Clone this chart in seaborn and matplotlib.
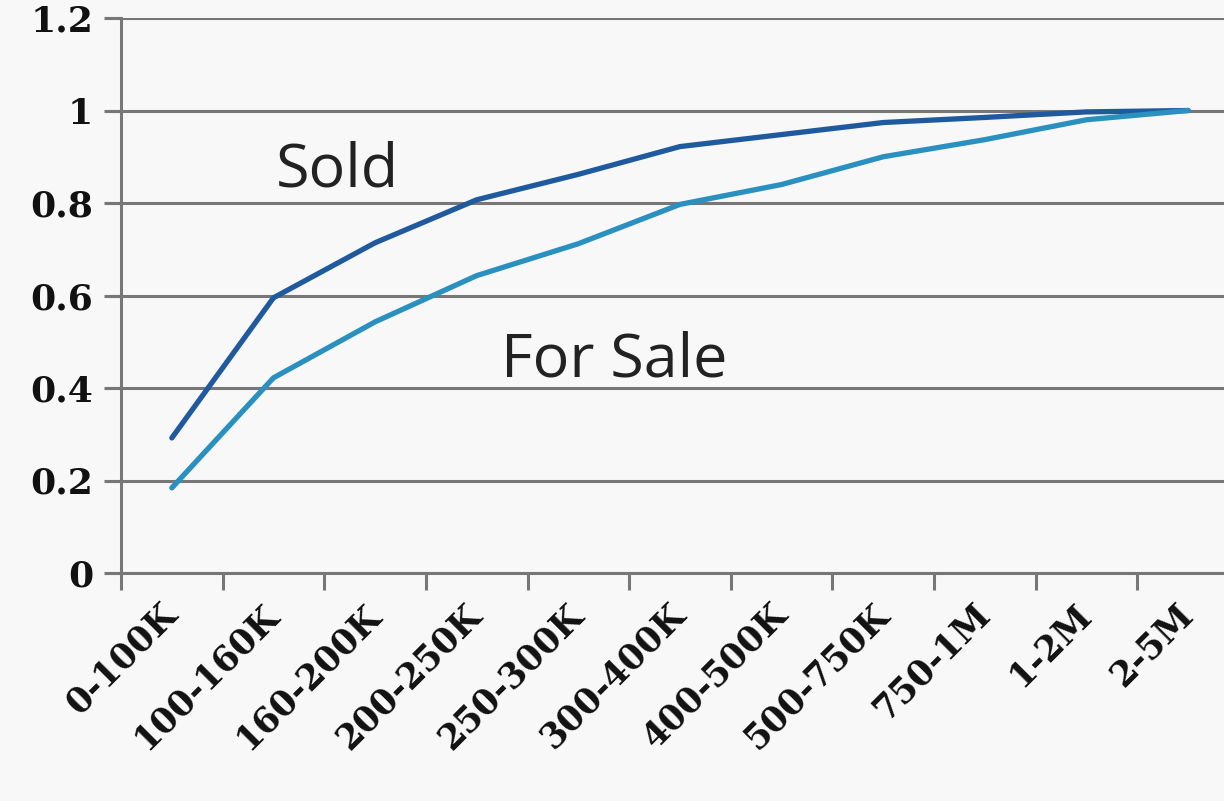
import numpy as np
import pandas as pd
import matplotlib
matplotlib.use("Agg")
import matplotlib.pyplot as plt
import seaborn as sns

# Cumulative share of homes by price band, sold vs for sale.
price_bands = ['0-100K', '100-160K', '160-200K', '200-250K', '250-300K',
               '300-400K', '400-500K', '500-750K', '750-1M', '1-2M', '2-5M']
sold = [0.292, 0.595, 0.714, 0.807, 0.862, 0.922, 0.948, 0.974, 0.985, 0.997, 1.0]
for_sale = [0.184, 0.422, 0.543, 0.643, 0.712, 0.797, 0.840, 0.900, 0.937, 0.980, 1.0]
y_ticks = [0, 0.2, 0.4, 0.6, 0.8, 1.0, 1.2]
y_labels = ['0', '0.2', '0.4', '0.6', '0.8', '1', '1.2']

df = pd.DataFrame({
    'band': price_bands * 2,
    'share': sold + for_sale,
    'series': ['Sold'] * len(sold) + ['For Sale'] * len(for_sale),
})

sns.set_style("white", {'xtick.bottom': True, 'ytick.left': True,
                        'xtick.direction': 'out', 'ytick.direction': 'out'})

fig = plt.figure(figsize=(12.24, 8.01), dpi=100)
fig.patch.set_facecolor('#f8f8f8')
# the chart runs a bit past the right edge of the picture
ax = fig.add_axes([121 / 1224, 228 / 801, 1118 / 1224, 555 / 801])
ax.set_facecolor('#f8f8f8')

palette = {'Sold': '#1f5a9f', 'For Sale': '#2a90c0'}
sns.lineplot(data=df, x='band', y='share', hue='series', palette=palette,
             hue_order=['Sold', 'For Sale'], sort=False, linewidth=3.8,
             legend=False, ax=ax)

ax.set_xlim(-0.5, len(price_bands) - 0.5)
ax.set_ylim(0, 1.2)
ax.set_yticks(y_ticks)
ax.set_yticklabels(y_labels)
ax.set_xticks(np.arange(-0.5, len(price_bands) - 0.4, 1), minor=False)
ax.set_xticklabels([])
ax.set_xticks(np.arange(len(price_bands)), minor=True)
ax.set_xticklabels(price_bands, minor=True)

ax.yaxis.grid(True, color='#777777', linewidth=2.2)
ax.set_axisbelow(True)
for side in ['top', 'right']:
    ax.spines[side].set_visible(False)
for side in ['left', 'bottom']:
    ax.spines[side].set_color('#777777')
    ax.spines[side].set_linewidth(2.2)

ax.tick_params(axis='y', which='major', direction='out', left=True, length=12,
               width=2.2, color='#777777', pad=8, labelsize=26)
ax.tick_params(axis='x', which='major', direction='out', bottom=True, length=12,
               width=2.2, color='#777777')
ax.tick_params(axis='x', which='minor', bottom=True, length=0, pad=26, labelsize=25)

# outward y tick marks, as gridline stubs left of the axis
ytrans = ax.get_yaxis_transform()
for yv in y_ticks:
    ax.plot([-0.0145, 0], [yv, yv], transform=ytrans, color='#777777',
            linewidth=2.2, clip_on=False, solid_capstyle='butt')

for lab in ax.get_yticklabels():
    lab.set_family('DejaVu Serif')
    lab.set_weight('bold')
    lab.set_color('#111111')
for lab in ax.get_xticklabels(minor=True):
    lab.set_family('DejaVu Serif')
    lab.set_weight('bold')
    lab.set_color('#111111')
    lab.set_rotation(45)
    lab.set_ha('right')
    lab.set_va('center')
    lab.set_rotation_mode('anchor')

ax.set_xlabel('')
ax.set_ylabel('')

ax.text(1.63, 0.87, 'Sold', fontsize=44, family='Open Sans', color='#222222',
        ha='center', va='center')
ax.text(4.35, 0.46, 'For Sale', fontsize=44, family='Open Sans', color='#222222',
        ha='center', va='center')

fig.savefig('out.png', dpi=100, facecolor=fig.get_facecolor())
